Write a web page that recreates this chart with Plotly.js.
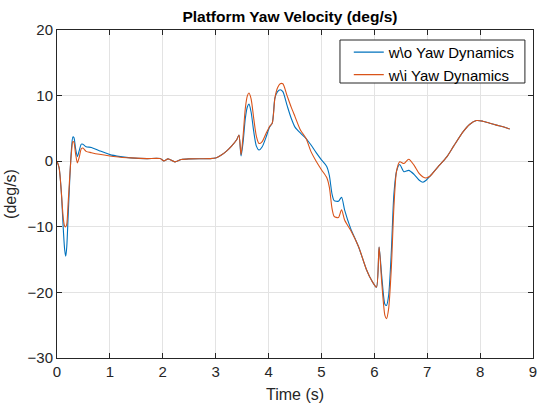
<!DOCTYPE html>
<html>
<head>
<meta charset="utf-8">
<script src="https://cdn.plot.ly/plotly-3.0.1.min.js"></script>
<style>html,body{margin:0;padding:0;background:#fff;}#chart{width:537px;height:405px;}</style>
</head>
<body>
<div id="chart"></div>
<script>
const seriesNames = ["w\\o Yaw Dynamics", "w\\i Yaw Dynamics"];
const time = [0.00,0.04,0.08,0.12,0.145,0.165,0.185,0.21,0.24,0.27,0.30,0.32,0.35,0.385,0.42,0.46,0.49,0.55,0.65,0.8,1.0,1.2,1.4,1.7,1.95,2.02,2.1,2.23,2.35,2.5,2.9,3.0,3.1,3.2,3.3,3.4,3.44,3.48,3.52,3.56,3.6,3.63,3.67,3.72,3.77,3.82,3.88,3.95,4.02,4.07,4.12,4.17,4.22,4.27,4.35,4.43,4.5,4.6,4.71,4.8,4.9,5.0,5.1,5.15,5.2,5.24,5.32,5.38,5.44,5.55,5.7,5.85,5.95,6.04,6.09,6.14,6.2,6.23,6.27,6.32,6.37,6.42,6.48,6.56,6.65,6.75,6.85,6.92,6.98,7.05,7.2,7.37,7.5,7.68,7.8,7.93,8.05,8.2,8.31,8.45,8.56];
const yawWithout = [0,-1.0,-4.5,-10.5,-13.5,-14.5,-13.0,-8.5,-3.0,1.5,3.7,3.6,2.0,0.7,1.6,2.6,2.6,2.2,2.1,1.6,1.0,0.7,0.5,0.4,0.4,0.05,0.35,-0.1,0.25,0.35,0.4,0.5,0.9,1.5,2.3,3.3,4.0,0.8,3.0,6.5,8.3,8.7,7.5,4.5,2.3,1.7,2.2,3.6,5.2,5.8,9.6,10.6,10.9,10.6,8.5,6.5,5.2,4.3,3.45,2.5,1.3,0.2,-0.8,-2.2,-5.0,-6.0,-6.1,-5.5,-7.5,-10.2,-13.0,-16.5,-18.2,-19.2,-13.1,-17.5,-21.8,-22.0,-20.5,-14.0,-5.0,-1.5,-0.5,-1.6,-1.4,-2.0,-2.9,-3.2,-2.9,-2.3,-0.9,0.66,2.3,4.5,5.6,6.2,6.1,5.75,5.5,5.2,4.9];
const yawWith = [0,-1.0,-4.5,-8.8,-9.9,-10.0,-9.6,-6.5,-2.5,1.0,3.0,2.9,1.2,-0.25,0.6,1.9,2.0,1.5,1.3,1.05,0.8,0.6,0.5,0.4,0.4,0.05,0.35,-0.1,0.25,0.35,0.4,0.5,0.9,1.5,2.3,3.3,4.0,1.0,4.0,8.0,10.0,10.4,9.5,6.5,3.8,2.7,3.0,4.2,5.3,5.8,9.6,11.2,11.8,11.8,10.0,8.2,6.8,4.8,3.45,1.5,0.0,-1.3,-2.5,-4.0,-7.2,-8.4,-8.6,-7.4,-9.0,-10.5,-13.0,-16.5,-18.2,-19.2,-13.1,-18.5,-23.5,-24.0,-22.5,-16.5,-7.0,-1.5,-0.1,-0.35,0.3,-0.6,-1.9,-2.4,-2.55,-2.3,-0.9,0.66,2.3,4.5,5.6,6.2,6.1,5.75,5.5,5.2,4.9];
const xTicks = [0,1,2,3,4,5,6,7,8,9];
const yTicks = [-30,-20,-10,0,10,20];

const font = "Liberation Sans, Arial, sans-serif";
const traces = [
  {x: time, y: yawWithout, name: seriesNames[0], type: "scatter", mode: "lines",
   line: {color: "#0072BD", width: 1.1, shape: "spline", smoothing: 0.7}},
  {x: time, y: yawWith, name: seriesNames[1], type: "scatter", mode: "lines",
   line: {color: "#D95319", width: 1.1, shape: "spline", smoothing: 0.7}}
];
const axisCommon = {
  showline: true, linecolor: "#262626", linewidth: 1, mirror: "allticks",
  ticks: "inside", ticklen: 5, tickcolor: "#262626",
  showgrid: true, gridcolor: "#e3e3e3", gridwidth: 1, zeroline: false,
  ticklabeloverflow: "allow",
  tickfont: {family: font, size: 15, color: "#262626"}
};
const layout = {
  width: 537, height: 405,
  margin: {l: 57, r: 4, t: 30, b: 47},
  paper_bgcolor: "#fff", plot_bgcolor: "#fff",
  title: {text: "<b>Platform Yaw Velocity (deg/s)</b>", font: {family: font, size: 15.5, color: "#000"},
          x: 0.54, xanchor: "center", y: 0.958, yanchor: "middle"},
  xaxis: Object.assign({}, axisCommon, {range: [0, 9], tickvals: xTicks,
          title: {text: "Time (s)", font: {family: font, size: 16, color: "#262626"}, standoff: 9}}),
  yaxis: Object.assign({}, axisCommon, {range: [-30, 20], tickvals: yTicks,
          title: {text: "(deg/s)", font: {family: font, size: 16, color: "#262626"}, standoff: 6}}),
  shapes: [{type: "rect", xref: "paper", yref: "paper", x0: 0.5945, x1: 0.983, y0: 0.8384, y1: 0.9695,
            line: {color: "#262626", width: 1}, fillcolor: "#fff", layer: "above"}],
  showlegend: true,
  legend: {x: 0.613, y: 0.982, xanchor: "left", yanchor: "top", bgcolor: "rgba(0,0,0,0)",
           borderwidth: 0, font: {family: font, size: 15, color: "#000"},
           tracegroupgap: 0, itemwidth: 30}
};
Plotly.newPlot("chart", traces, layout, {staticPlot: true});
</script>
</body>
</html>
